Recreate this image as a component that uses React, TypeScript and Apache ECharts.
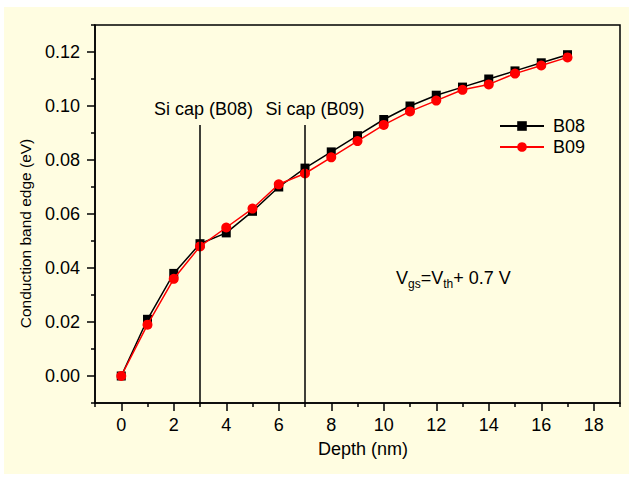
import React, { useEffect, useRef } from "react";
import * as echarts from "echarts";

// ---- data ----
const depth = [0, 1, 2, 3, 4, 5, 6, 7, 8, 9, 10, 11, 12, 13, 14, 15, 16, 17];
const b08 = [0.0, 0.021, 0.038, 0.049, 0.053, 0.061, 0.07, 0.077, 0.083, 0.089, 0.095, 0.1, 0.104, 0.107, 0.11, 0.113, 0.116, 0.119];
const b09 = [0.0, 0.019, 0.036, 0.048, 0.055, 0.062, 0.071, 0.075, 0.081, 0.087, 0.093, 0.098, 0.102, 0.106, 0.108, 0.112, 0.115, 0.118];
const seriesNames = ["B08", "B09"];
const siCapX = [3, 7];
const siCapTop = [0.093, 0.093];
const siCapLabels = ["Si cap (B08)", "Si cap (B09)"];
const xMajor = [0, 2, 4, 6, 8, 10, 12, 14, 16, 18];
const xMinor = [-1, 1, 3, 5, 7, 9, 11, 13, 15, 17, 19];
const yMajor = [0, 0.02, 0.04, 0.06, 0.08, 0.1, 0.12];
const yMinor = [-0.01, 0.01, 0.03, 0.05, 0.07, 0.09, 0.11, 0.13];
const xRange = [-1, 19];
const yRange = [-0.01, 0.13];
const xTitle = "Depth (nm)";
const yTitle = "Conduction band edge (eV)";

const FONT = "'Liberation Sans', Arial, sans-serif";

export default function App() {
  const ref = useRef<HTMLDivElement>(null);
  useEffect(() => {
    if (!ref.current) return;
    const chart = echarts.init(ref.current, null, { renderer: "svg" });
    const axisLine = { show: true, onZero: false, lineStyle: { color: "#000", width: 1.5 } };
    const labelPads = [7, 20];
    const option: any = {
      animation: false,
      backgroundColor: "transparent",
      textStyle: { fontFamily: FONT, color: "#000" },
      graphic: [
        {
          type: "rect",
          z: -10,
          silent: true,
          shape: { x: 4, y: 7, width: 625, height: 467 },
          style: { fill: "#FFFDE1" },
        },
        {
          type: "text",
          left: 396,
          top: 269,
          z: 10,
          style: {
            text: "{m|V}{s|gs}{m|=V}{s|th}{m|+ 0.7 V}",
            fill: "#000",
            font: "18px " + FONT,
            rich: {
              m: { fontSize: 18, fontFamily: FONT, lineHeight: 18, verticalAlign: "top", fill: "#000" },
              s: { fontSize: 12, fontFamily: FONT, lineHeight: 12, verticalAlign: "top", padding: [9, 0, 0, 0], fill: "#000" },
            },
          },
        },
      ],
      grid: {
        show: true,
        left: 95,
        top: 25,
        right: 9,
        bottom: 74,
        borderColor: "#000",
        borderWidth: 1.5,
        backgroundColor: "transparent",
      },
      legend: {
        data: seriesNames,
        orient: "vertical",
        left: 499,
        top: 117,
        padding: 0,
        itemWidth: 44,
        itemHeight: 12,
        itemGap: 3,
        textStyle: { fontSize: 18, color: "#000", fontFamily: FONT, padding: [0, 0, 0, 4] },
      },
      xAxis: [
        {
          type: "value",
          min: xRange[0],
          max: xRange[1],
          position: "bottom",
          name: xTitle,
          nameLocation: "middle",
          nameGap: 37,
          nameTextStyle: { fontSize: 18, color: "#000", fontFamily: FONT, padding: [0, 0, 0, 11] },
          axisLine,
          axisTick: { show: true, inside: false, length: 8, customValues: xMajor, lineStyle: { color: "#000", width: 1.5 } },
          axisLabel: { customValues: xMajor, fontSize: 18, color: "#000", fontFamily: FONT, margin: 13 },
          splitLine: { show: false },
        },
        {
          type: "value",
          min: xRange[0],
          max: xRange[1],
          position: "bottom",
          axisLine: { show: false, onZero: false },
          axisTick: { show: true, inside: false, length: 4, customValues: xMinor, lineStyle: { color: "#000", width: 1.5 } },
          axisLabel: { show: false },
          splitLine: { show: false },
        },
      ],
      yAxis: [
        {
          type: "value",
          min: yRange[0],
          max: yRange[1],
          position: "left",
          name: yTitle,
          nameLocation: "middle",
          nameGap: 62,
          nameRotate: 90,
          nameTextStyle: { fontSize: 15.5, color: "#000", fontFamily: FONT, padding: [0, 39, 0, 0] },
          axisLine,
          axisTick: { show: true, inside: false, length: 8, customValues: yMajor, lineStyle: { color: "#000", width: 1.5 } },
          axisLabel: {
            customValues: yMajor,
            fontSize: 18,
            color: "#000",
            fontFamily: FONT,
            margin: 15,
            formatter: (v: number) => v.toFixed(2),
          },
          splitLine: { show: false },
        },
        {
          type: "value",
          min: yRange[0],
          max: yRange[1],
          position: "left",
          axisLine: { show: false, onZero: false },
          axisTick: { show: true, inside: false, length: 4, customValues: yMinor, lineStyle: { color: "#000", width: 1.5 } },
          axisLabel: { show: false },
          splitLine: { show: false },
        },
      ],
      series: [
        {
          name: seriesNames[0],
          type: "line",
          xAxisIndex: 0,
          yAxisIndex: 0,
          data: depth.map((d, i) => [d, b08[i]]),
          symbol: "rect",
          symbolSize: 9,
          showAllSymbol: true,
          lineStyle: { color: "#000", width: 1.5 },
          itemStyle: { color: "#000" },
          z: 3,
          markLine: {
            silent: true,
            symbol: ["none", "none"],
            lineStyle: { color: "#000", width: 1.5, type: "solid" },
            label: { show: true, position: "start", distance: 7, fontSize: 18, color: "#000", fontFamily: FONT },
            data: siCapX.map((x, i) => [
              {
                coord: [x, siCapTop[i]],
                name: siCapLabels[i],
                label: { formatter: siCapLabels[i], padding: [0, 0, 0, labelPads[i]] },
              },
              { coord: [x, yRange[0]] },
            ]),
          },
        },
        {
          name: seriesNames[1],
          type: "line",
          xAxisIndex: 0,
          yAxisIndex: 0,
          data: depth.map((d, i) => [d, b09[i]]),
          symbol: "circle",
          symbolSize: 10,
          showAllSymbol: true,
          lineStyle: { color: "#ff0000", width: 1.5 },
          itemStyle: { color: "#ff0000" },
          z: 4,
        },
      ],
    };
    chart.setOption(option);
    return () => chart.dispose();
  }, []);
  return (
    <div
      ref={ref}
      style={{ position: "absolute", left: 0, top: 0, width: 629, height: 477, background: "#fff" }}
    />
  );
}
